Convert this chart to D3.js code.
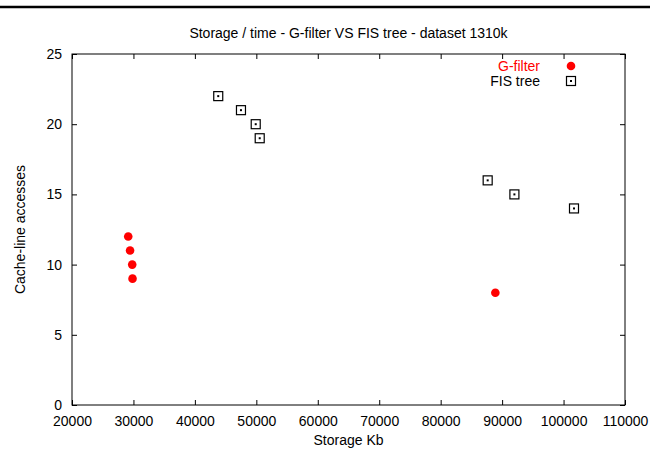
<!DOCTYPE html>
<html>
<head>
<meta charset="utf-8">
<script src="https://cdn.jsdelivr.net/npm/d3@7"></script>
<style>
  body { margin: 0; background: #fff; }
  svg text { font-family: "Liberation Sans", Arial, sans-serif; font-size: 14px; }
</style>
</head>
<body>
<svg id="chart"></svg>
<script>
// G-filter points
let gfilterStorage = [29150, 29450, 29800, 29850, 88900];
let gfilterAccesses = [12, 11, 10, 9, 8];
// FIS tree points
let fisStorage = [43800, 47500, 49900, 50550, 87650, 92000, 101700];
let fisAccesses = [22, 21, 20, 19, 16, 15, 14];

let xTicks = [20000, 30000, 40000, 50000, 60000, 70000, 80000, 90000, 100000, 110000];
let yTicks = [0, 5, 10, 15, 20, 25];

let W = 650, H = 451;
let margin = {top: 54, right: 25, bottom: 46, left: 72},
    width = W - margin.left - margin.right,
    height = H - margin.top - margin.bottom;

let svg = d3.select("#chart").attr("width", W).attr("height", H);

// thick rule at top of page
svg.append("line")
    .attr("x1", 0).attr("x2", W)
    .attr("y1", 7).attr("y2", 7)
    .attr("stroke", "#000").attr("stroke-width", 2.5);

let x = d3.scaleLinear().domain([20000, 110000]).range([0, width]);
let y = d3.scaleLinear().domain([0, 25]).range([height, 0]);

let g = svg.append("g")
    .attr("transform", "translate(" + margin.left + "," + margin.top + ")");

// axes with inward ticks, mirrored
let xAxis = d3.axisBottom(x).tickValues(xTicks).tickFormat(d3.format("d"))
    .tickSizeInner(-5).tickSizeOuter(0).tickPadding(11);
let xTop = d3.axisTop(x).tickValues(xTicks).tickSizeInner(-5).tickSizeOuter(0).tickFormat("");
let yAxis = d3.axisLeft(y).tickValues(yTicks).tickSizeInner(-5).tickSizeOuter(0).tickPadding(10);
let yRight = d3.axisRight(y).tickValues(yTicks).tickSizeInner(-5).tickSizeOuter(0).tickFormat("");

g.append("g").attr("transform", "translate(0," + height + ")").call(xAxis);
g.append("g").call(xTop);
g.append("g").call(yAxis);
g.append("g").attr("transform", "translate(" + width + ",0)").call(yRight);

g.selectAll(".domain").remove();
g.selectAll(".tick line").attr("stroke", "#000");
g.selectAll(".tick text").attr("fill", "#000").style("font-size", "14px")
    .style("font-family", "'Liberation Sans', Arial, sans-serif");

g.append("rect")
    .attr("width", width).attr("height", height)
    .attr("fill", "none").attr("stroke", "#000").attr("stroke-width", 1);

// G-filter markers
g.selectAll(".gf")
    .data(gfilterStorage)
    .enter().append("circle")
    .attr("class", "gf")
    .attr("cx", d => x(d))
    .attr("cy", (d, i) => y(gfilterAccesses[i]))
    .attr("r", 4.3)
    .attr("fill", "#ff0000");

// FIS tree markers: boxed dot
let fis = g.selectAll(".fis")
    .data(fisStorage)
    .enter().append("g")
    .attr("class", "fis")
    .attr("transform", (d, i) => "translate(" + x(d) + "," + y(fisAccesses[i]) + ")");
fis.append("rect")
    .attr("x", -4.5).attr("y", -4.5).attr("width", 9).attr("height", 9)
    .attr("fill", "none").attr("stroke", "#000").attr("stroke-width", 1.2);
fis.append("rect")
    .attr("x", -1).attr("y", -1).attr("width", 2).attr("height", 2)
    .attr("fill", "#000");

// legend
let legend = svg.append("g");
legend.append("text")
    .attr("x", 540).attr("y", 71)
    .attr("text-anchor", "end").attr("fill", "#ff0000")
    .text("G-filter");
legend.append("circle")
    .attr("cx", 571).attr("cy", 66).attr("r", 4.3).attr("fill", "#ff0000");
legend.append("text")
    .attr("x", 540).attr("y", 86)
    .attr("text-anchor", "end").attr("fill", "#000")
    .text("FIS tree");
legend.append("rect")
    .attr("x", 566.5).attr("y", 76.5).attr("width", 9).attr("height", 9)
    .attr("fill", "none").attr("stroke", "#000").attr("stroke-width", 1.2);
legend.append("rect")
    .attr("x", 570).attr("y", 80).attr("width", 2).attr("height", 2).attr("fill", "#000");

// title and axis labels
svg.append("text")
    .attr("x", margin.left + width / 2).attr("y", 38)
    .attr("text-anchor", "middle")
    .text("Storage / time - G-filter VS FIS tree - dataset 1310k");
svg.append("text")
    .attr("x", margin.left + width / 2).attr("y", 445)
    .attr("text-anchor", "middle")
    .text("Storage Kb");
svg.append("text")
    .attr("transform", "rotate(-90)")
    .attr("x", -(margin.top + height / 2)).attr("y", 25)
    .attr("text-anchor", "middle")
    .text("Cache-line accesses");
</script>
</body>
</html>
